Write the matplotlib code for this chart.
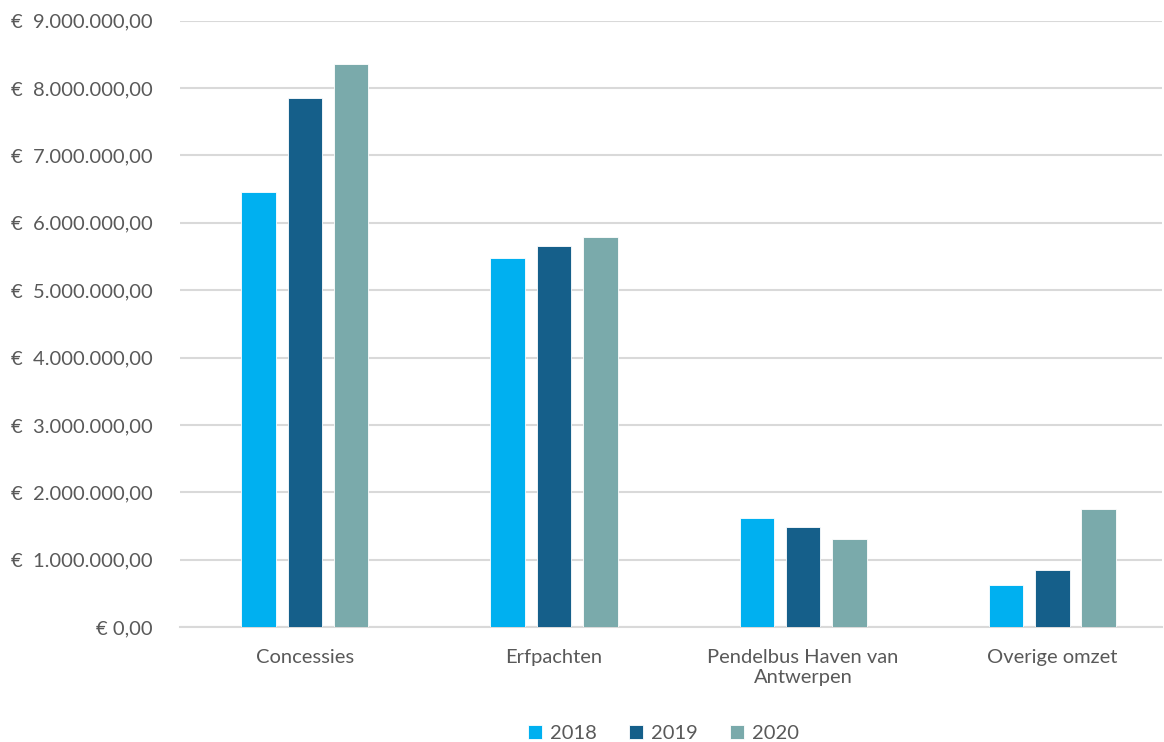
import matplotlib
matplotlib.use("Agg")
import matplotlib.pyplot as plt
import numpy as np
from matplotlib.ticker import FuncFormatter

categories = ["Concessies", "Erfpachten", "Pendelbus Haven van\nAntwerpen", "Overige omzet"]
years = ["2018", "2019", "2020"]
values_2018 = [6460000, 5480000, 1620000, 617000]
values_2019 = [7860000, 5660000, 1480000, 840000]
values_2020 = [8360000, 5790000, 1300000, 1755000]
colors = ["#00B0F0", "#155F8A", "#7AAAAB"]

plt.rcParams['font.family'] = ['Lato', 'DejaVu Sans']
text_color = "#595959"

fig = plt.figure(figsize=(11.64, 7.42), dpi=100)
ax = fig.add_axes([0.155, 0.155, 0.843, 0.817])

x = np.arange(len(categories))
width = 0.14
gap = 0.045
series = [values_2018, values_2019, values_2020]
for i, (vals, col, yr) in enumerate(zip(series, colors, years)):
    ax.bar(x + (i - 1) * (width + gap), vals, width, color=col, label=yr,
           edgecolor="white", linewidth=0.6, zorder=3)

ax.set_ylim(0, 9000000)
ax.set_yticks(np.arange(0, 9000001, 1000000))
ax.set_xlim(-0.5, 3.44)

def fmt(v, pos):
    if v == 0:
        return "€ 0,00"
    s = f"{int(v):,}".replace(",", ".")
    return f"€  {s},00"

ax.yaxis.set_major_formatter(FuncFormatter(fmt))
ax.grid(axis="y", color="#D9D9D9", linewidth=1.5, zorder=0)
for s in ["top", "right", "left"]:
    ax.spines[s].set_visible(False)
ax.spines["bottom"].set_color("#D9D9D9")
ax.spines["bottom"].set_linewidth(1.5)
ax.tick_params(axis="both", length=0, colors=text_color, labelsize=14.5)
ax.tick_params(axis="y", pad=20)
ax.tick_params(axis="x", pad=16)
ax.set_xticks(x)
ax.set_xticklabels(categories, fontsize=14.5, color=text_color)

leg = fig.legend(loc="lower center", ncol=3, frameon=False, fontsize=14.5,
                 bbox_to_anchor=(0.57, -0.025), handlelength=0.7, handleheight=0.7,
                 handletextpad=0.4, columnspacing=1.6)
for t in leg.get_texts():
    t.set_color(text_color)

fig.savefig("out.png", dpi=100)
